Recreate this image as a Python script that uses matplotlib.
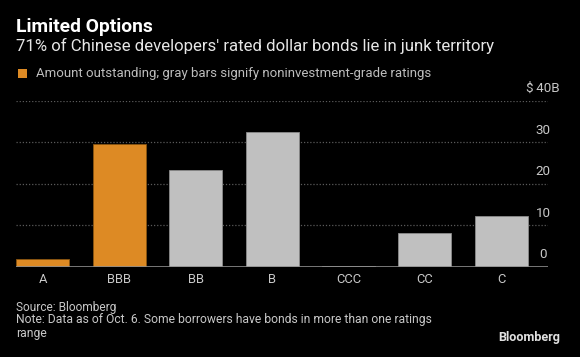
import matplotlib
matplotlib.use("Agg")
import matplotlib.pyplot as plt
from matplotlib import transforms as mtrans

categories = ["A", "BBB", "BB", "B", "CCC", "CC", "C"]
values = [1.9, 29.5, 23.3, 32.4, 0.15, 8.2, 12.3]
investment_grade = [True, True, False, False, False, False, False]
y_ticks = [0, 10, 20, 30, 40]
y_tick_labels = ["0", "10", "20", "30", "$\u200940B"]

title = "Limited Options"
subtitle = "71% of Chinese developers' rated dollar bonds lie in junk territory"
legend_text = "Amount outstanding; gray bars signify noninvestment-grade ratings"
source = "Source: Bloomberg"
note_line1 = "Note: Data as of Oct. 6. Some borrowers have bonds in more than one ratings"
note_line2 = "range"

plt.rcParams["font.family"] = ["Roboto", "DejaVu Sans"]

W, H = 580, 357
fig = plt.figure(figsize=(W / 100, H / 100), dpi=100, facecolor="black")
renderer = fig.canvas.get_renderer()


def fit(t, target_w):
    w = t.get_window_extent(renderer).width
    t.set_fontsize(t.get_fontsize() * target_w / w)
    return t


left, right = 16.3 / W, 548 / W
bottom, top = 1 - 267 / H, 1 - 100.7 / H
ax = fig.add_axes([left, bottom, right - left, top - bottom], facecolor="black")

orange = "#dd8a24"
gray = "#c0c0c0"
colors = [orange if ig else gray for ig in investment_grade]
edges = ["#8a5510" if ig else "#8a8a8a" for ig in investment_grade]
x = list(range(len(categories)))
ax.bar(x, values, width=0.694, color=colors, edgecolor=edges, linewidth=0.6, zorder=3)

ax.set_xlim(-0.347, 6.61)
ax.set_ylim(0, 40)
for v in y_ticks[1:]:
    ax.axhline(v, color="#5a5a5a", linestyle=(0, (1, 1.5)), linewidth=0.9, zorder=1)
ax.axhline(0, color="#8c8c8c", linewidth=1.2, zorder=4)

for s in ax.spines.values():
    s.set_visible(False)
ax.set_yticks([])
ax.set_xticks(x)
ax.set_xticklabels(categories, color="#c8c8c8", fontsize=10)
ax.tick_params(axis="x", length=0, pad=4)
probe = fig.text(0, 0, "BBB", fontsize=10)
fit(probe, 24)
xt_size = probe.get_fontsize()
probe.remove()
for lab in ax.get_xticklabels():
    lab.set_fontsize(xt_size)

blend = mtrans.blended_transform_factory(ax.transAxes, ax.transData)
off = mtrans.ScaledTranslation(-5 / 100, 12 / 100, fig.dpi_scale_trans)
ylabs = []
for v, lab in zip(y_ticks, y_tick_labels):
    ylabs.append(ax.text(1.0, v, lab, transform=blend + off, ha="center", va="center",
                         color="#c8c8c8", fontsize=10, clip_on=False))
fit(ylabs[3], 15)
for t in ylabs:
    t.set_fontsize(ylabs[3].get_fontsize())

t = fig.text(16.5 / W, 1 - 27 / H, title, color="white", fontsize=12.5,
             fontweight="bold", ha="left", va="center")
fit(t, 137)
t = fig.text(16 / W, 1 - 46 / H, subtitle, color="#e6e6e6", fontsize=12,
             ha="left", va="center")
fit(t, 476)
fig.patches.append(plt.Rectangle((18 / W, 1 - 77.5 / H), 9 / W, 9 / H,
                                 transform=fig.transFigure, facecolor=orange,
                                 edgecolor="none"))
t = fig.text(36 / W, 1 - 73 / H, legend_text, color="#bdbdbd", fontsize=9.5,
             ha="left", va="center")
fit(t, 397)
t = fig.text(16.5 / W, 1 - 307 / H, source, color="#c8c8c8", fontsize=9.5,
             ha="left", va="center")
fit(t, 101)
t1 = fig.text(16.5 / W, 1 - 320 / H, note_line1, color="#c8c8c8", fontsize=9.5,
              ha="left", va="center")
fit(t1, 420)
t2 = fig.text(16.5 / W, 1 - 333 / H, note_line2, color="#c8c8c8",
              fontsize=t1.get_fontsize(), ha="left", va="center")
t = fig.text(560 / W, 1 - 338 / H, "Bloomberg", color="#e0e0e0", fontsize=9,
             fontweight="bold", ha="right", va="center")
fit(t, 62)

fig.savefig("out.png", dpi=100, facecolor="black")
